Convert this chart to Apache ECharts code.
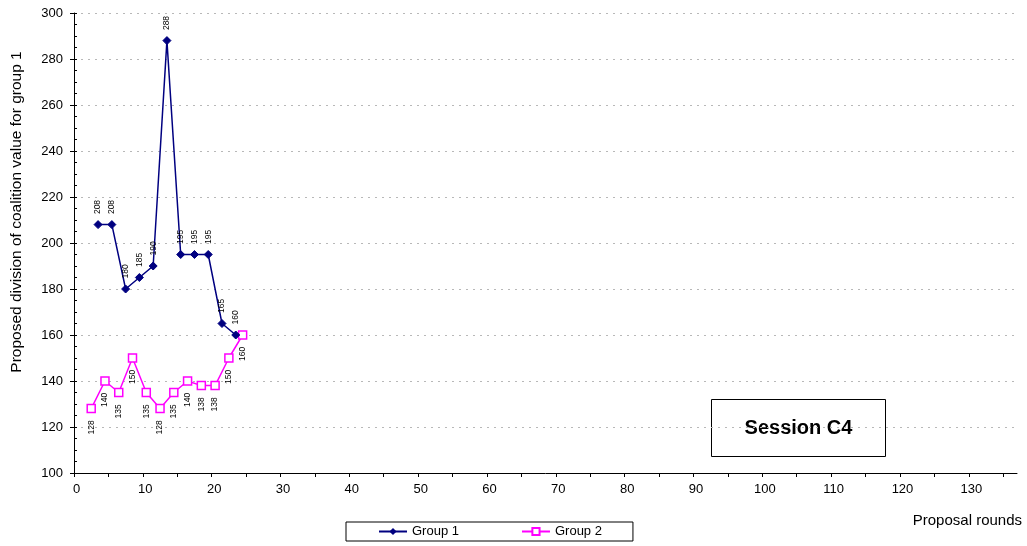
<!DOCTYPE html>
<html>
<head>
<meta charset="utf-8">
<script src="https://cdn.jsdelivr.net/npm/echarts@6/dist/echarts.min.js"></script>
<style>
  html, body { margin: 0; padding: 0; background: #fff; }
  #chart { width: 1027px; height: 546px; }
</style>
</head>
<body>
<div id="chart"></div>
<script>
// Proposal rounds and proposed values per group
const group1Rounds = [3.5, 5.5, 7.5, 9.5, 11.5, 13.5, 15.5, 17.5, 19.5, 21.5, 23.5];
const group1Values = [208, 208, 180, 185, 190, 288, 195, 195, 195, 165, 160];
const group2Rounds = [2.5, 4.5, 6.5, 8.5, 10.5, 12.5, 14.5, 16.5, 18.5, 20.5, 22.5, 24.5];
const group2Values = [128, 140, 135, 150, 135, 128, 135, 140, 138, 138, 150, 160];

// Axis tick labels
const xTickLabels = [0, 10, 20, 30, 40, 50, 60, 70, 80, 90, 100, 110, 120, 130];
const yTickLabels = [100, 120, 140, 160, 180, 200, 220, 240, 260, 280, 300];

const seriesNames = ['Group 1', 'Group 2'];
const xAxisTitle = 'Proposal rounds';
const yAxisTitle = 'Proposed division of coalition value for group 1';
const sessionLabel = 'Session C4';

const FONT = '"Liberation Sans", Arial, sans-serif';

// x tick marks every half label step
const xTickMarks = [];
xTickLabels.forEach(v => { xTickMarks.push(v, v + 5); });

const pairs = (xs, ys) => xs.map((x, i) => [x, ys[i]]);

const chart = echarts.init(document.getElementById('chart'), null, { renderer: 'canvas' });

chart.setOption({
  backgroundColor: '#fff',
  animation: false,
  grid: { left: 74, right: 10, top: 13, bottom: 73, containLabel: false },
  xAxis: {
    type: 'value',
    min: 0,
    max: 137,
    interval: 10,
    name: xAxisTitle,
    nameLocation: 'end',
    nameGap: 5,
    nameTextStyle: {
      fontFamily: FONT, fontSize: 15, color: '#000',
      align: 'right', verticalAlign: 'top', padding: [40, 0, 0, 0]
    },
    axisLine: { show: true, lineStyle: { color: '#000', width: 1 } },
    axisTick: { show: true, inside: false, length: 4, lineStyle: { color: '#000' }, customValues: xTickMarks },
    axisLabel: { fontFamily: FONT, fontSize: 13, color: '#000', margin: 10, padding: [0, 0, 0, 5], customValues: xTickLabels },
    splitLine: { show: false }
  },
  yAxis: [
    {
      type: 'value',
      min: yTickLabels[0],
      max: yTickLabels[yTickLabels.length - 1],
      interval: 20,
      name: yAxisTitle,
      nameLocation: 'middle',
      nameGap: 49,
      nameTextStyle: { fontFamily: FONT, fontSize: 15.5, color: '#000', padding: [0, 0, 0, 62] },
      axisLine: { show: true, lineStyle: { color: '#000', width: 1 } },
      axisTick: { show: true, inside: true, length: 3, lineStyle: { color: '#000' } },
      minorTick: { show: true, splitNumber: 4, length: 3, lineStyle: { color: '#000' } },
      axisLabel: { fontFamily: FONT, fontSize: 13, color: '#000', margin: 11 },
      splitLine: { show: true, lineStyle: { color: '#b8b8b8', width: 1, type: [2, 5] } }
    },
    {
      // outer half of the crossing major ticks
      type: 'value',
      position: 'left',
      min: yTickLabels[0],
      max: yTickLabels[yTickLabels.length - 1],
      interval: 20,
      axisLine: { show: false },
      axisTick: { show: true, inside: false, length: 4, lineStyle: { color: '#000' } },
      axisLabel: { show: false },
      splitLine: { show: false }
    }
  ],
  legend: {
    left: 346,
    top: 522,
    width: 282,
    orient: 'horizontal',
    padding: [3, 31, 3, 32],
    itemGap: 62,
    itemWidth: 28,
    itemHeight: 9,
    borderColor: '#000',
    borderWidth: 1,
    backgroundColor: '#fff',
    textStyle: { fontFamily: FONT, fontSize: 13, color: '#000' },
    data: seriesNames
  },
  series: [
    {
      name: seriesNames[0],
      type: 'line',
      yAxisIndex: 0,
      data: pairs(group1Rounds, group1Values),
      symbol: 'diamond',
      symbolSize: 8,
      lineStyle: { color: '#000080', width: 1.5 },
      itemStyle: { color: '#000080', borderColor: '#000080' },
      label: {
        show: true,
        position: 'top',
        distance: 6,
        rotate: 90,
        align: 'left',
        verticalAlign: 'middle',
        fontFamily: FONT,
        fontSize: 8.5,
        color: '#000'
      },
      z: 3
    },
    {
      name: seriesNames[1],
      type: 'line',
      yAxisIndex: 0,
      data: pairs(group2Rounds, group2Values),
      symbol: 'rect',
      symbolSize: 8,
      lineStyle: { color: '#ff00ff', width: 1.5 },
      itemStyle: { color: '#fff', borderColor: '#ff00ff', borderWidth: 1.5 },
      label: {
        show: true,
        position: 'bottom',
        distance: 7,
        rotate: 90,
        align: 'right',
        verticalAlign: 'middle',
        fontFamily: FONT,
        fontSize: 8.5,
        color: '#000'
      },
      z: 2
    }
  ],
  graphic: [
    {
      type: 'group',
      left: 711,
      top: 399,
      children: [
        {
          type: 'rect',
          shape: { x: 0, y: 0, width: 174, height: 57 },
          style: { fill: '#fff', stroke: '#000', lineWidth: 1 }
        },
        {
          type: 'text',
          x: 87,
          y: 29,
          style: {
            text: sessionLabel,
            fontFamily: FONT,
            fontSize: 20,
            fontWeight: 'bold',
            fill: '#000',
            align: 'center',
            verticalAlign: 'middle'
          }
        }
      ]
    }
  ]
});
</script>
</body>
</html>
